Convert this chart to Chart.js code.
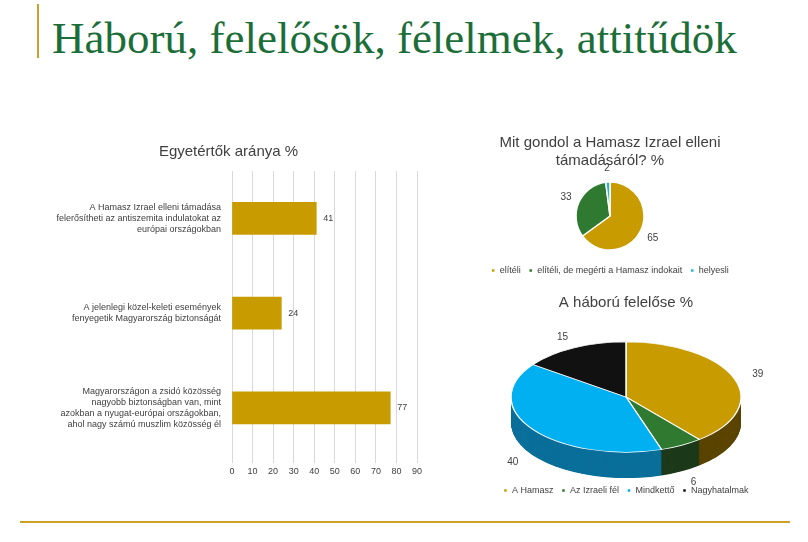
<!DOCTYPE html><html><head><meta charset="utf-8">
<script src="https://cdn.jsdelivr.net/npm/chart.js@4"></script>
<style>
body{margin:0;width:808px;height:542px;background:#fff;position:relative;overflow:hidden;font-family:"Liberation Sans",Arial,sans-serif}
#title{position:absolute;left:52px;top:12px;font-family:"Liberation Serif","Times New Roman",serif;font-size:45px;color:#1c6e38;white-space:nowrap}
#vl{position:absolute;left:37px;top:4px;width:2px;height:54px;background:#c9a227}
#hl{position:absolute;left:20px;top:521px;width:770px;height:2px;background:#c9a227}
.c{position:absolute}
</style></head><body>
<div id="vl"></div><div id="title">Háború, felelősök, félelmek, attitűdök</div><div id="hl"></div>
<div class="c" style="left:40px;top:135px;width:430px;height:345px"><canvas id="bar"></canvas></div>
<div class="c" style="left:470px;top:110px;width:330px;height:175px"><canvas id="p1"></canvas></div>
<div class="c" style="left:470px;top:290px;width:330px;height:235px"><canvas id="p2"></canvas></div>
<script>
const barLabels=[["A Hamasz Izrael elleni támadása","felerősítheti az antiszemita indulatokat az","európai országokban"],["A jelenlegi közel-keleti események","fenyegetik Magyarország biztonságát"],["Magyarországon a zsidó közösség","nagyobb biztonságban van, mint","azokban a nyugat-európai országokban,","ahol nagy számú muszlim közösség él"]];
const barValues=[41,24,77];
const p1Labels=["elítéli","elítéli, de megérti a Hamasz indokait","helyesli"];
const p1Values=[65,33,2];
const p2Labels=["A Hamasz","Az Izraeli fél","Mindkettő","Nagyhatalmak"];
const p2Values=[39,6,40,15];
const GOLD="#c89b00";
Chart.defaults.font.family='"Liberation Sans",Arial,sans-serif';
Chart.defaults.color="#404040";
const barVal={id:"bv",afterDatasetsDraw(c){const ctx=c.ctx;const m=c.getDatasetMeta(0);ctx.save();ctx.font="9px 'Liberation Sans'";ctx.fillStyle="#404040";ctx.textBaseline="middle";m.data.forEach((b,i)=>ctx.fillText(c.data.datasets[0].data[i],b.x+7,b.y));ctx.restore();}};
new Chart(document.getElementById("bar"),{type:"bar",data:{labels:barLabels,datasets:[{data:barValues,backgroundColor:GOLD,barThickness:32}]},
options:{indexAxis:"y",animation:false,responsive:true,maintainAspectRatio:false,layout:{padding:{right:53,top:0}},
plugins:{legend:{display:false},title:{display:true,text:"Egyetértők aránya %",font:{size:15,weight:"normal"},color:"#404040",padding:{top:8,bottom:10}}},
scales:{x:{min:0,max:90,ticks:{stepSize:10,font:{size:9}},grid:{color:"#d9d9d9"},border:{display:false}},
y:{grid:{display:false},border:{color:"#d9d9d9"},ticks:{font:{size:9},color:"#404040"},afterFit(s){s.width=192;}}}},plugins:[barVal]});

function outLabels(scaleY,dist,depth){return{id:"ol",afterDraw(c){const ctx=c.ctx;const m=c.getDatasetMeta(0);ctx.save();ctx.font="10px 'Liberation Sans'";ctx.fillStyle="#404040";ctx.textAlign="center";ctx.textBaseline="middle";
m.data.forEach((a,i)=>{const ang=(a.startAngle+a.endAngle)/2;const r=a.outerRadius+dist;const s=Math.sin(ang);ctx.fillText(c.data.datasets[0].data[i],a.x+Math.cos(ang)*r,a.y+s*r*scaleY+(s>0?depth:0));});ctx.restore();}}}
const leg={position:"bottom",labels:{boxWidth:4,boxHeight:4,font:{size:9},color:"#404040",padding:8}};
new Chart(document.getElementById("p1"),{type:"pie",data:{labels:p1Labels,datasets:[{data:p1Values,backgroundColor:[GOLD,"#2f7a30","#2bb4d0"],borderColor:"#fff",borderWidth:1.5,radius:34}]},
options:{animation:false,responsive:true,maintainAspectRatio:false,layout:{padding:{top:18,right:50}},
plugins:{legend:leg,title:{display:true,text:["Mit gondol a Hamasz Izrael elleni","támadásáról? %"],font:{size:15,weight:"normal"},color:"#404040",padding:{top:6,bottom:4}}}},plugins:[outLabels(1,14,0)]});

const SY=0.48,DEPTH=26;const dark=["#5a4400","#1d3a1a","#0a6f9a","#000"];
const tilt={id:"tilt",beforeDatasetsDraw(c){const ctx=c.ctx;const m=c.getDatasetMeta(0);const a0=m.data[0];const cx=a0.x,cy=a0.y;ctx.save();ctx.translate(cx,cy);ctx.scale(1,SY);ctx.translate(-cx,-cy);
const d=DEPTH/SY;for(let k=Math.round(d);k>0;k-=1){m.data.forEach((a,i)=>{ctx.beginPath();ctx.moveTo(cx,cy+k);ctx.arc(cx,cy+k,a.outerRadius,a.startAngle,a.endAngle);ctx.closePath();ctx.fillStyle=dark[i];ctx.fill();});}},
afterDatasetsDraw(c){c.ctx.restore();}};
new Chart(document.getElementById("p2"),{type:"pie",data:{labels:p2Labels,datasets:[{data:p2Values,backgroundColor:[GOLD,"#2f7a30","#00b0f0","#111"],borderColor:"#fff",borderWidth:1.5,radius:115}]},
options:{animation:false,responsive:true,maintainAspectRatio:false,layout:{padding:{right:18,bottom:20}},
plugins:{legend:leg,title:{display:true,text:"A háború felelőse %",font:{size:15,weight:"normal"},color:"#404040",padding:{top:4,bottom:4}}}},plugins:[tilt,outLabels(SY,25,DEPTH)]});
</script></body></html>
